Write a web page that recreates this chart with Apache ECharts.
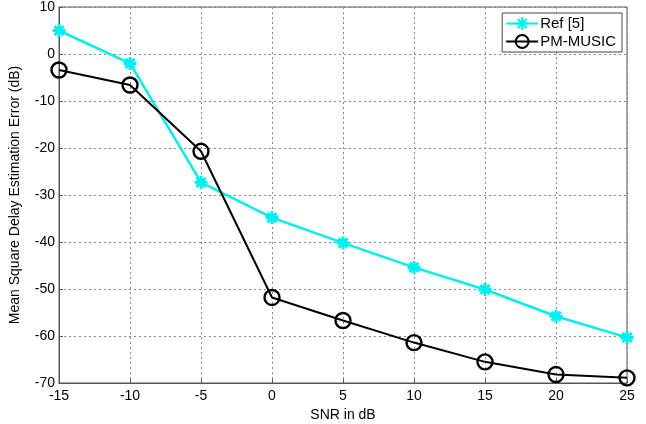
<!DOCTYPE html>
<html>
<head>
<meta charset="utf-8">
<script src="https://cdn.jsdelivr.net/npm/echarts@6/dist/echarts.min.js"></script>
<style>
  html, body { margin: 0; padding: 0; background: #fff; }
  #chart { width: 646px; height: 424px; }
</style>
</head>
<body>
<div id="chart"></div>
<script>
// SNR points (dB)
const snr = [-15, -10, -5, 0, 5, 10, 15, 20, 25];
// mean square delay estimation error (dB)
const refValues = [5, -2, -27.3, -34.8, -40.2, -45.4, -50.1, -55.8, -60.3];
const pmMusicValues = [-3.4, -6.6, -20.7, -51.8, -56.7, -61.4, -65.5, -68.2, -68.9];
const seriesNames = ["Ref [5]", "PM-MUSIC"];

const asterisk = "path://M0 5L10 5M5 0L5 10M1.5 1.5L8.5 8.5M8.5 1.5L1.5 8.5";
const font = "Liberation Sans";

const chart = echarts.init(document.getElementById("chart"));
chart.setOption({
  animation: false,
  backgroundColor: "#fff",
  grid: {
    left: 59, right: 19, top: 7, bottom: 41,
    outerBoundsMode: "none",
    show: true, borderColor: "#555", borderWidth: 1
  },
  legend: {
    right: 24, top: 13,
    orient: "vertical",
    backgroundColor: "#fff",
    borderColor: "#444", borderWidth: 1, borderRadius: 0,
    padding: [3, 6, 3, 3],
    itemGap: 3, itemWidth: 32, itemHeight: 16,
    textStyle: { fontFamily: font, fontSize: 15, color: "#000", padding: [0, 0, 0, -3] },
    data: seriesNames
  },
  xAxis: {
    type: "value", min: -15, max: 25, interval: 5,
    name: "SNR in dB", nameLocation: "middle", nameGap: 22,
    nameTextStyle: { fontFamily: font, fontSize: 14, color: "#000" },
    axisLine: { onZero: false, lineStyle: { color: "#555" } },
    axisTick: { inside: true, length: 4, lineStyle: { color: "#555" } },
    axisLabel: { fontFamily: font, fontSize: 14, color: "#000", margin: 6 },
    splitLine: { lineStyle: { color: "#888", type: [2, 3] } }
  },
  yAxis: {
    type: "value", min: -70, max: 10, interval: 10,
    name: "Mean Square Delay Estimation Error (dB)", nameLocation: "middle", nameGap: 37,
    nameTextStyle: { fontFamily: font, fontSize: 14, color: "#000" },
    axisLine: { show: true, onZero: false, lineStyle: { color: "#555" } },
    axisTick: { show: true, inside: true, length: 4, lineStyle: { color: "#555" } },
    axisLabel: { fontFamily: font, fontSize: 14, color: "#000", margin: 4 },
    splitLine: { lineStyle: { color: "#888", type: [2, 3] } }
  },
  series: [
    {
      name: seriesNames[0], type: "line",
      data: snr.map((x, i) => [x, refValues[i]]),
      symbol: asterisk, symbolSize: 13,
      lineStyle: { color: "#00f0f0", width: 2.5 },
      itemStyle: { color: "#00f0f0", borderColor: "#00f0f0", borderWidth: 3 },
      z: 2
    },
    {
      name: seriesNames[1], type: "line",
      data: snr.map((x, i) => [x, pmMusicValues[i]]),
      symbol: "circle", symbolSize: 15,
      lineStyle: { color: "#000", width: 2 },
      itemStyle: { color: "rgba(255,255,255,0)", borderColor: "#000", borderWidth: 2.4 },
      z: 3
    }
  ]
});
</script>
</body>
</html>
